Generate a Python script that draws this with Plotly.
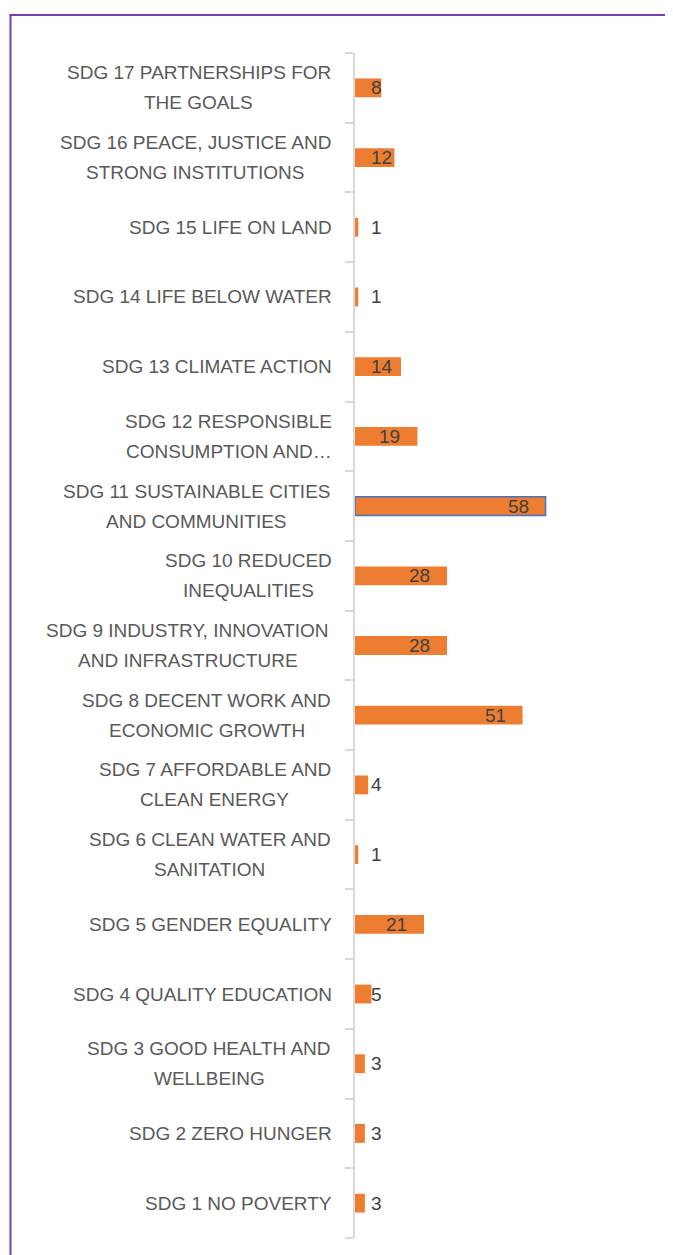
import plotly.graph_objects as go

# ---- data ----
categories = [
    "SDG 1 NO POVERTY",
    "SDG 2 ZERO HUNGER",
    "SDG 3 GOOD HEALTH AND<br>WELLBEING",
    "SDG 4 QUALITY EDUCATION",
    "SDG 5 GENDER EQUALITY",
    "SDG 6 CLEAN WATER AND<br>SANITATION",
    "SDG 7 AFFORDABLE AND<br>CLEAN ENERGY",
    "SDG 8 DECENT WORK AND<br>ECONOMIC GROWTH",
    "SDG 9 INDUSTRY, INNOVATION<br>AND INFRASTRUCTURE",
    "SDG 10 REDUCED<br>INEQUALITIES",
    "SDG 11 SUSTAINABLE CITIES<br>AND COMMUNITIES",
    "SDG 12 RESPONSIBLE<br>CONSUMPTION AND…",
    "SDG 13 CLIMATE ACTION",
    "SDG 14 LIFE BELOW WATER",
    "SDG 15 LIFE ON LAND",
    "SDG 16 PEACE, JUSTICE AND<br>STRONG INSTITUTIONS",
    "SDG 17 PARTNERSHIPS FOR<br>THE GOALS",
]
values = [3, 3, 3, 5, 21, 1, 4, 51, 28, 28, 58, 19, 14, 1, 1, 12, 8]
highlighted = "SDG 11 SUSTAINABLE CITIES<br>AND COMMUNITIES"

# ---- layout constants (page body adds an 8px margin) ----
W, H = 673, 1255
ML, MR, MT, MB = 347, 96, 45, 25
XMAX = 70
FONT = "Liberation Sans, Arial, sans-serif"
FS = 19
plot_w = W - ML - MR
plot_h = H - MT - MB
scale = plot_w / XMAX

# Arial/Liberation Sans advance widths (per 1000 em)
AW = {' ': 278, ',': 278, '…': 1000, 'A': 667, 'B': 667, 'C': 722, 'D': 722, 'E': 667,
      'F': 611, 'G': 778, 'H': 722, 'I': 278, 'J': 500, 'K': 667, 'L': 556, 'M': 833,
      'N': 722, 'O': 778, 'P': 667, 'Q': 778, 'R': 722, 'S': 667, 'T': 611, 'U': 722,
      'V': 667, 'W': 944, 'X': 667, 'Y': 667, 'Z': 611}


def text_w(s, fs=FS):
    return sum(AW.get(c, 556) for c in s) * fs / 1000.0


line_colors = ["#4472C4" if c == highlighted else "rgba(0,0,0,0)" for c in categories]
line_widths = [1.5 if c == highlighted else 0 for c in categories]

fig = go.Figure(go.Bar(
    x=values, y=categories, orientation="h",
    marker=dict(color="#ED7D31", line=dict(color=line_colors, width=line_widths)),
    width=0.27, hoverinfo="skip",
))

annotations = []
# category labels
for cat in categories:
    lines = cat.split("<br>")
    if len(lines) == 1:
        annotations.append(dict(x=0, xref="paper", y=cat, yref="y", text=lines[0],
                                xanchor="right", yanchor="middle", xshift=-21,
                                showarrow=False, font=dict(family=FONT, size=FS, color="#595959")))
    else:
        block = max(text_w(l) for l in lines)
        cx = -23 - block / 2.0
        n = len(lines)
        for k, l in enumerate(lines):
            annotations.append(dict(x=0, xref="paper", y=cat, yref="y", text=l,
                                    xanchor="center", yanchor="middle", xshift=cx,
                                    yshift=15 * ((n - 1) / 2.0 - k) * 2 / (n - 1),
                                    showarrow=False, font=dict(family=FONT, size=FS, color="#595959")))

# data labels
for cat, v in zip(categories, values):
    lw = text_w(str(v))
    if v * scale - 17 - lw >= 16:
        annotations.append(dict(x=v, xref="x", y=cat, yref="y", text=str(v),
                                xanchor="right", yanchor="middle", xshift=-15,
                                showarrow=False, font=dict(family=FONT, size=FS, color="#404040")))
    else:
        annotations.append(dict(x=0, xref="x", y=cat, yref="y", text=str(v),
                                xanchor="left", yanchor="middle", xshift=14,
                                showarrow=False, font=dict(family=FONT, size=FS, color="#404040")))


def px_to_paper_x(px):
    return (px - ML) / plot_w


def px_to_paper_y(py):
    return (H - MB - py) / plot_h


purple = "#7640B4"
shapes = [
    dict(type="line", xref="paper", yref="paper",
         x0=px_to_paper_x(1.5), x1=px_to_paper_x(W + 10),
         y0=px_to_paper_y(7), y1=px_to_paper_y(7),
         line=dict(color=purple, width=2)),
    dict(type="line", xref="paper", yref="paper",
         x0=px_to_paper_x(2.5), x1=px_to_paper_x(2.5),
         y0=px_to_paper_y(6), y1=px_to_paper_y(H + 10),
         line=dict(color=purple, width=2)),
]

fig.update_layout(
    width=W, height=H,
    margin=dict(l=ML, r=MR, t=MT, b=MB, pad=0),
    paper_bgcolor="white", plot_bgcolor="white",
    showlegend=False,
    annotations=annotations,
    shapes=shapes,
    xaxis=dict(range=[0, XMAX], visible=False, showgrid=False, zeroline=False, fixedrange=True),
    yaxis=dict(type="category", categoryorder="array", categoryarray=categories,
               showticklabels=False, showgrid=False, zeroline=False,
               showline=True, linecolor="#D9D9D9", linewidth=1.5,
               ticks="outside", ticklen=8, tickcolor="#D9D9D9", tickwidth=1.5,
               tickson="boundaries", fixedrange=True),
)

fig.write_html("out.html", config={"displayModeBar": False})
